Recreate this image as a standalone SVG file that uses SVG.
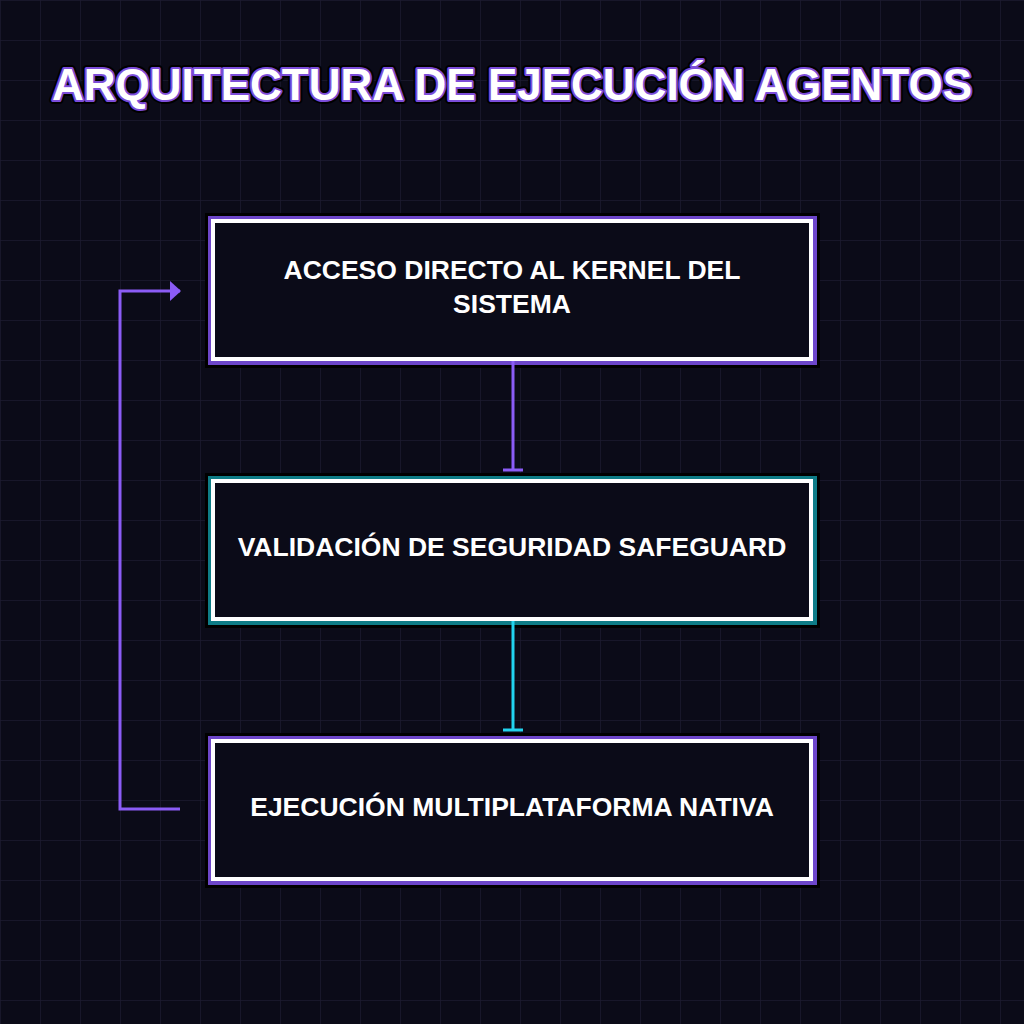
<svg xmlns="http://www.w3.org/2000/svg" width="1024" height="1024" viewBox="0 0 1024 1024">
<defs>
<pattern id="grid" width="40" height="40" patternUnits="userSpaceOnUse"><path d="M40 0H0V40" fill="none" stroke="#1c1a30" stroke-width="1.5"/></pattern>
<marker id="arr" viewBox="0 0 11 20" refX="10" refY="10" markerWidth="11" markerHeight="20" markerUnits="userSpaceOnUse" orient="auto"><path d="M0 0L11 10L0 20z" fill="#8b5cf6"/></marker>
<marker id="teeP" viewBox="0 0 4 20" refX="2" refY="10" markerWidth="4" markerHeight="20" markerUnits="userSpaceOnUse" orient="auto"><path d="M2 0V20" stroke="#8b5cf6" stroke-width="3"/></marker>
<marker id="teeC" viewBox="0 0 4 20" refX="2" refY="10" markerWidth="4" markerHeight="20" markerUnits="userSpaceOnUse" orient="auto"><path d="M2 0V20" stroke="#22d3ee" stroke-width="3"/></marker>
</defs>
<style>
.t{font-family:"Liberation Sans",Arial,sans-serif;font-weight:bold;fill:#fff;text-anchor:middle}
.lbl{font-size:26.5px}
.outer{fill:#000}
.inner{fill:#0b0b18;stroke:#fff;stroke-width:4}
</style>
<rect width="1024" height="1024" fill="#0b0b18"/>
<rect width="1024" height="1024" fill="url(#grid)"/>
<text class="t" x="512" y="100" font-size="44" stroke="#000" stroke-width="8" stroke-linejoin="round">ARQUITECTURA DE EJECUCIÓN AGENTOS</text>
<text class="t" x="512" y="100" font-size="44" stroke="#7c4dd9" stroke-width="4" stroke-linejoin="round">ARQUITECTURA DE EJECUCIÓN AGENTOS</text>
<text class="t" x="512" y="100" font-size="44">ARQUITECTURA DE EJECUCIÓN AGENTOS</text>
<g id="n1">
<rect class="outer" x="205" y="213" width="615" height="155"/>
<rect x="208" y="216" width="609" height="149" fill="#6d46c9"/>
<rect class="inner" x="213" y="221" width="598" height="138"/>
<text class="t lbl" x="512" y="279">ACCESO DIRECTO AL KERNEL DEL</text>
<text class="t lbl" x="512" y="313">SISTEMA</text>
</g>
<g id="n2">
<rect class="outer" x="205" y="473" width="615" height="155"/>
<rect x="208" y="476" width="609" height="149" fill="#0e7c86"/>
<rect class="inner" x="213" y="481" width="598" height="138"/>
<text class="t lbl" x="512" y="556">VALIDACIÓN DE SEGURIDAD SAFEGUARD</text>
</g>
<g id="n3">
<rect class="outer" x="205" y="733" width="615" height="155"/>
<rect x="208" y="736" width="609" height="149" fill="#6d46c9"/>
<rect class="inner" x="213" y="741" width="598" height="138"/>
<text class="t lbl" x="512" y="816">EJECUCIÓN MULTIPLATAFORMA NATIVA</text>
</g>
<g id="connectors" fill="none" stroke-width="3">
<path d="M513 361V470" stroke="#8b5cf6" marker-end="url(#teeP)"/>
<path d="M513 621V730" stroke="#22d3ee" marker-end="url(#teeC)"/>
<path d="M180 809H120V291H180" stroke="#8b5cf6" marker-end="url(#arr)"/>
</g>
</svg>
